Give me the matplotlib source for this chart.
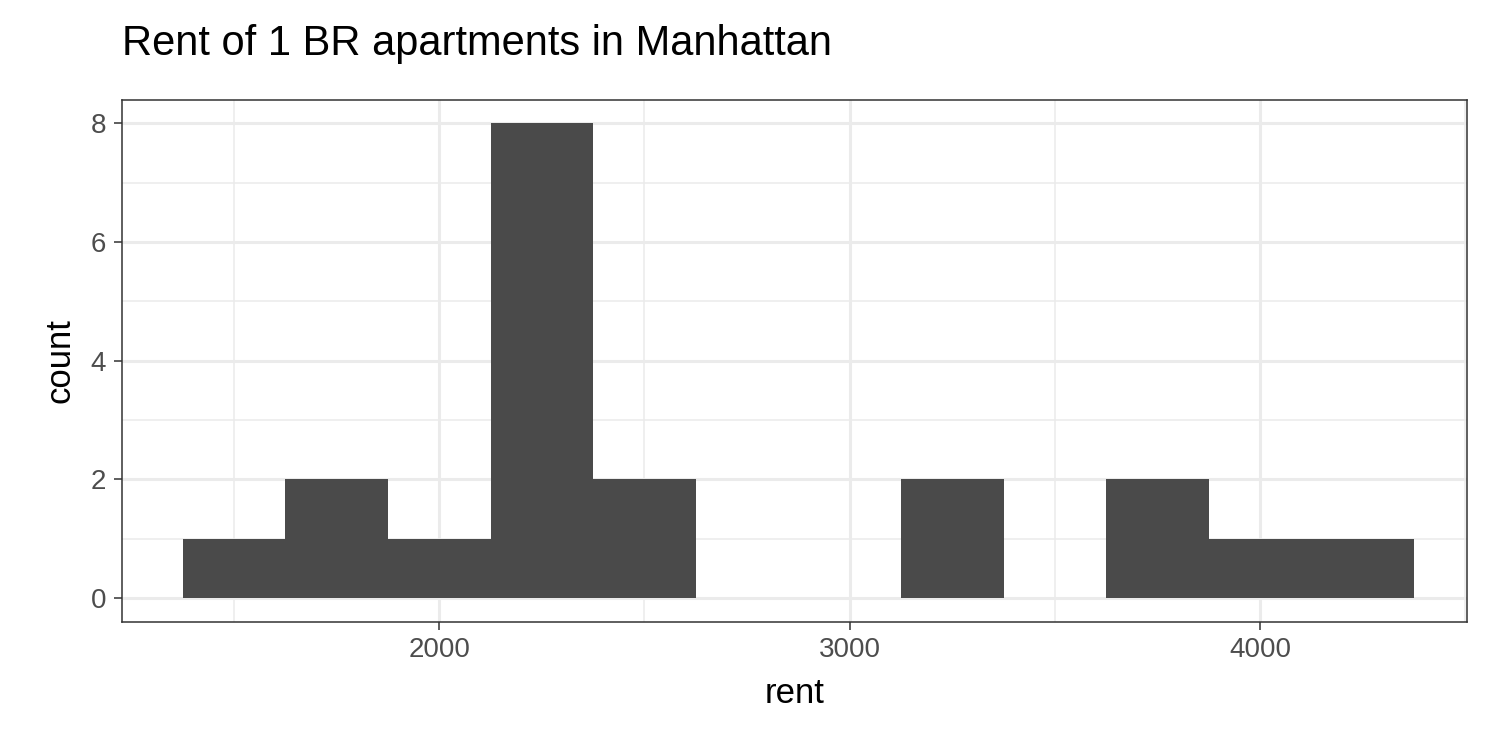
import numpy as np
import matplotlib
matplotlib.use("Agg")
import matplotlib.pyplot as plt

plt.rcParams['font.family'] = ['Liberation Sans', 'DejaVu Sans']

bin_edges = [1375, 1625, 1875, 2125, 2375, 2625, 2875, 3125, 3375, 3625, 3875, 4125, 4375]
counts = [1, 2, 1, 8, 2, 0, 0, 2, 0, 2, 1, 1]

fig = plt.figure(figsize=(15, 7.5), dpi=100)
ax = fig.add_axes([0.081, 0.171, 0.897, 0.696])

lefts = np.array(bin_edges[:-1])
widths = np.diff(bin_edges)
ax.bar(lefts, counts, width=widths, align='edge', color='#4a4a4a', zorder=3)

ax.set_xlim(1226, 4504)
ax.set_ylim(-0.4, 8.4)
ax.set_xticks([2000, 3000, 4000])
ax.set_xticks([1500, 2500, 3500, 4500], minor=True)
ax.set_yticks([0, 2, 4, 6, 8])
ax.set_yticks([1, 3, 5, 7], minor=True)
ax.grid(which='major', color='#ebebeb', linewidth=2.2, zorder=0)
ax.grid(which='minor', color='#ebebeb', linewidth=1.1, zorder=0)
for s in ax.spines.values():
    s.set_color('#333333')
    s.set_linewidth(1.1)
ax.tick_params(which='major', length=6, width=1.1, color='#333333', labelsize=20, labelcolor='#4d4d4d', pad=5)
ax.tick_params(which='minor', length=0)

ax.set_xlabel('rent', fontsize=25, labelpad=10)
ax.set_ylabel('count', fontsize=25, labelpad=10)
fig.text(0.081, 0.915, 'Rent of 1 BR apartments in Manhattan', fontsize=30, ha='left', va='bottom')

fig.savefig('out.png', dpi=100)
